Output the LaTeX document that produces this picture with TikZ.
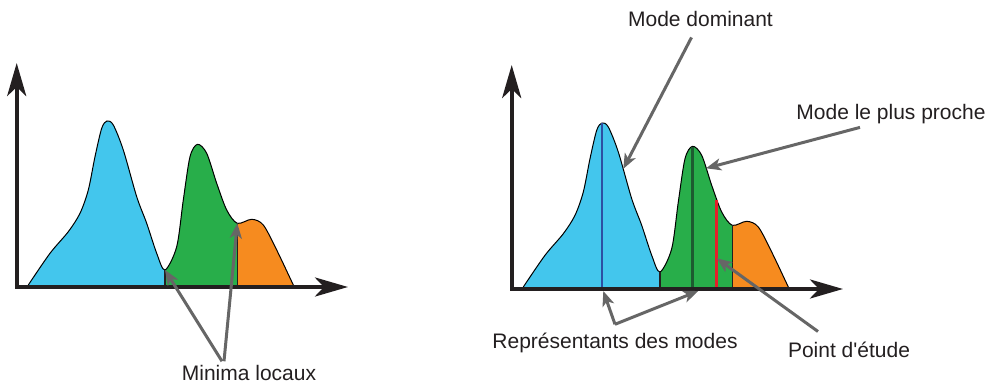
\documentclass[tikz,border=0pt]{standalone}
\usepackage{fontspec}
\setmainfont{Liberation Sans}
\usetikzlibrary{arrows.meta,calc,positioning}
\definecolor{bleu}{RGB}{67,198,237}
\definecolor{vert}{RGB}{40,174,74}
\definecolor{orange}{RGB}{246,139,31}
\definecolor{bleufonce}{RGB}{45,79,163}
\definecolor{vertfonce}{RGB}{29,91,48}
\definecolor{rouge}{RGB}{228,32,42}
\definecolor{gris}{RGB}{102,102,102}
\definecolor{texte}{RGB}{35,31,32}
\tikzstyle{axe}    =[line width=4.2pt, line join=miter, draw=texte,
                     arrows={Stealth[length=33pt,width=19pt,inset=9pt]-Stealth[length=33pt,width=19pt,inset=9pt]}]
\tikzstyle{fleche} =[line width=3pt, draw=gris,
                     arrows={-Stealth[length=15pt,width=12pt,inset=4pt]}]
\tikzstyle{contour}=[line width=1pt, draw=black]
\tikzstyle{sep}    =[line width=1.6pt, draw=texte]
\tikzstyle{legende}=[font=\fontsize{21}{25}\selectfont, text=texte,
                     anchor=base]
\newcommand{\bosses}{%
  \begin{scope}
    \clip (28.3,287) -- plot[smooth] coordinates {(28.3,285) (50,253.3)
      (68.3,231.7) (80,213.3) (88.3,190) (95,156.7) (101.7,128.3)
      (107,121) (113.3,125) (123.3,150) (136.7,196.7) (146.7,223.3)
      (156.7,253.3) (165,270) (176.7,246.7) (183.3,200) (190,156.7)
      (197.5,144.3) (206.7,153.3) (216.7,183.3) (226.7,210) (237.3,223.3)
      (251.7,219.3) (263.3,225) (276.7,250) (293.3,285)} -- (293.3,287) -- cycle;
    \fill[bleu] (0,0) rectangle (165,300);
    \fill[vert] (165,0) rectangle (237.3,300);
    \fill[orange] (237.3,0) rectangle (320,300);
  \end{scope}
  \draw[contour] plot[smooth] coordinates {(28.3,285) (50,253.3)
      (68.3,231.7) (80,213.3) (88.3,190) (95,156.7) (101.7,128.3)
      (107,121) (113.3,125) (123.3,150) (136.7,196.7) (146.7,223.3)
      (156.7,253.3) (165,270) (176.7,246.7) (183.3,200) (190,156.7)
      (197.5,144.3) (206.7,153.3) (216.7,183.3) (226.7,210) (237.3,223.3)
      (251.7,219.3) (263.3,225) (276.7,250) (293.3,285)};
}

\begin{document}
\begin{tikzpicture}[x=1pt, y=-1pt]
  \useasboundingbox (0,0) rectangle (989,385);

  % histogramme de gauche
  \bosses
  \coordinate (min1) at (165,270);
  \coordinate (min2) at (237.3,223.3);
  \draw[sep] (min1) -- (165,287);
  \draw[sep] (min2) -- (237.3,287);
  \draw[axe] (16.7,63) -- (16.7,287) -- (348,287);

  \node[legende] (minima) at (249,380) {Minima locaux};
  \draw[fleche] ([xshift=-27pt]minima.north) -- (min1);
  \draw[fleche] ([xshift=-25pt]minima.north) -- (min2);

  % histogramme de droite
  \begin{scope}[shift={(495,2)}]
    \bosses
    \coordinate (pic1) at (107,121.5);
    \coordinate (pic2) at (197.5,144.8);
    \coordinate (etude) at (221.7,198);
    \coordinate (flanc1) at (128.3,166.8);
    \coordinate (flanc2) at (211,166.3);
    \coordinate (pointe) at (221.7,256.3);
    \coordinate (rep1) at (108.3,289);
    \coordinate (rep2) at (203.3,289);
    \draw[sep] (165,270) -- (165,287);
    \draw[sep] (237.3,223.3) -- (237.3,287);
    \draw[line width=2.8pt, bleufonce] (pic1) -- (107,287);
    \draw[line width=2.8pt, vertfonce] (pic2) -- (197.5,287);
    \draw[line width=2.8pt, rouge] (etude) -- (221.7,287);
    \draw[axe] (16.7,63) -- (16.7,287) -- (348,287);
  \end{scope}

  \node[legende] (dominant) at (700.5,26.7) {Mode dominant};
  \node[legende] (proche) at (891,119.5) {Mode le plus proche};
  \node[legende] (representants) at (615,348.3) {Représentants des modes};
  \node[legende] (point) at (849,357.5) {Point d\textquotesingle étude};

  \draw[fleche] ([xshift=-9pt,yshift=-7pt]dominant.south) -- (flanc1);
  \draw[fleche] ([xshift=-31pt]proche.south) -- (flanc2);
  \draw[fleche] ([yshift=5pt]representants.north) -- (rep1);
  \draw[fleche] ([yshift=5pt]representants.north) -- (rep2);
  \draw[fleche] ([xshift=-31pt,yshift=7pt]point.north) -- (pointe);

\end{tikzpicture}
\end{document}
